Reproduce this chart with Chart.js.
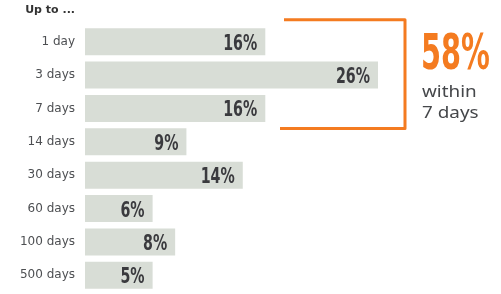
<!DOCTYPE html>
<html>
<head>
<meta charset="utf-8">
<script src="https://cdn.jsdelivr.net/npm/chart.js@4"></script>
<style>
  html, body { margin: 0; padding: 0; background: #fff; overflow: hidden; }
  canvas { display: block; }
</style>
</head>
<body>
<canvas id="barChart" width="501" height="294"></canvas>
<script>
const categories = ["1 day", "3 days", "7 days", "14 days", "30 days", "60 days", "100 days", "500 days"];
const shares = [16, 26, 16, 9, 14, 6, 8, 6];
const shareLabels = ["16%", "26%", "16%", "9%", "14%", "6%", "8%", "5%"];
const headline = "58%";
const headlineText = ["within", "7 days"];
const axisTitle = "Up to ...";

const orange = "#f47b20";
const condensed = "'Liberation Sans Narrow', 'DejaVu Sans Condensed', sans-serif";

// value labels, bracket and side note
const extras = {
  id: "extras",
  afterDatasetsDraw(chart) {
    const c = chart.ctx;
    const meta = chart.getDatasetMeta(0);
    const y = chart.scales.y;
    c.save();
    c.fillStyle = "#3a3a3e";
    c.textAlign = "right";
    c.textBaseline = "alphabetic";
    meta.data.forEach(function(bar, i) {
      c.save();
      c.translate(bar.x - 8, bar.y + 8);
      c.scale(0.72, 1);
      c.font = "bold 22px " + condensed;
      c.fillText(shareLabels[i], 0, 0);
      c.restore();
    });

    // bracket round the first three rows
    const top = y.getPixelForValue(0) - 22;
    const bottom = y.getPixelForValue(2) + 20;
    const right = 405;
    c.strokeStyle = orange;
    c.lineWidth = 3;
    c.lineJoin = "round";
    c.beginPath();
    c.moveTo(284, top);
    c.lineTo(right, top);
    c.lineTo(right, bottom);
    c.lineTo(280, bottom);
    c.stroke();

    c.textAlign = "left";
    c.fillStyle = orange;
    c.save();
    c.translate(421, 69);
    c.scale(0.64, 1);
    c.font = "bold 50px " + condensed;
    c.fillText(headline, 0, 0);
    c.restore();

    c.fillStyle = "#45474a";
    c.save();
    c.translate(422, 97);
    c.scale(1.18, 1);
    c.font = "16px 'Noto Sans', sans-serif";
    c.fillText(headlineText[0], 0, 0);
    c.fillText(headlineText[1], 0, 21);
    c.restore();

    c.fillStyle = "#333";
    c.textAlign = "right";
    c.font = "bold 11px 'DejaVu Sans', sans-serif";
    c.fillText(axisTitle, 75, 13);
    c.restore();
  }
};

var ctx = document.getElementById("barChart").getContext("2d");
var barChart = new Chart(ctx, {
  type: "bar",
  data: {
    labels: categories,
    datasets: [{
      data: shares,
      backgroundColor: "#d8ddd6",
      barPercentage: 0.81,
      categoryPercentage: 1
    }]
  },
  options: {
    indexAxis: "y",
    responsive: false,
    animation: false,
    layout: { padding: { top: 25, bottom: 2, left: 0, right: 123 } },
    plugins: { legend: { display: false }, tooltip: { enabled: false } },
    scales: {
      x: {
        min: 0, max: 26,
        display: false,
        grid: { display: false }
      },
      y: {
        grid: { display: false, drawTicks: false },
        border: { display: false },
        afterFit: function(axis) {
          axis.width = 85;
          axis.paddingTop = 0;
          axis.paddingBottom = 0;
        },
        ticks: {
          padding: 10,
          color: "#4d4f52",
          font: { family: "'DejaVu Sans', sans-serif", size: 12 }
        }
      }
    }
  },
  plugins: [extras]
});
</script>
</body>
</html>
